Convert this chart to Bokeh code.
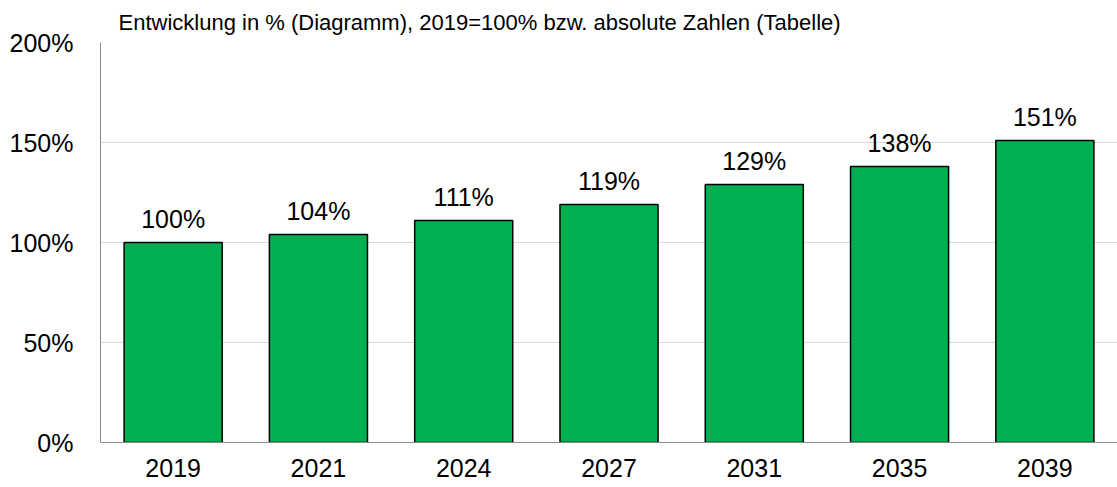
from bokeh.plotting import figure
from bokeh.models import ColumnDataSource, FixedTicker, Range1d, Title
from bokeh.core.properties import value
from bokeh.embed import file_html
from bokeh.resources import INLINE

years = ["2019", "2021", "2024", "2027", "2031", "2035", "2039"]
values = [100, 104, 111, 119, 129, 138, 151]
labels = [f"{v}%" for v in values]
title_text = "Entwicklung in % (Diagramm), 2019=100% bzw. absolute Zahlen (Tabelle)"

FONT = "Liberation Sans"
xs = [i + 0.5 for i in range(len(years))]
src = ColumnDataSource(dict(x=xs, top=values, lab=labels))

p = figure(output_backend="svg", toolbar_location=None,
           frame_width=1017, frame_height=400,
           min_border_left=100, min_border_right=0, min_border_top=42, min_border_bottom=45,
           x_range=Range1d(0, len(years)), y_range=Range1d(0, 200),
           background_fill_color="white", border_fill_color="white")
p.outline_line_color = None

p.vbar(x="x", top="top", bottom=0, width=0.675, source=src,
       fill_color="#00B050", line_color="black", line_width=1.5)
p.text(x="x", y="top", text="lab", source=src, text_align="center",
       text_baseline="bottom", y_offset=-10, text_font=value(FONT),
       text_font_size="25px", text_color="black")

p.xaxis.ticker = FixedTicker(ticks=xs)
p.xaxis.major_label_overrides = {x: y for x, y in zip(xs, years)}
p.yaxis.ticker = FixedTicker(ticks=[0, 50, 100, 150, 200])
p.yaxis.major_label_overrides = {0: "0%", 50: "50%", 100: "100%", 150: "150%", 200: "200%"}

for ax in (p.xaxis, p.yaxis):
    ax.axis_line_color = "#8c8c8c"
    ax.axis_line_width = 1
    ax.major_tick_line_color = None
    ax.minor_tick_line_color = None
    ax.major_label_text_font = FONT
    ax.major_label_text_font_size = "25px"
    ax.major_label_text_color = "black"
p.yaxis.major_label_standoff = 21
p.xaxis.major_label_standoff = 10

p.xgrid.grid_line_color = None
p.ygrid.grid_line_color = "#d9d9d9"
p.ygrid.grid_line_width = 1

t = Title(text=title_text, text_font=FONT, text_font_size="22px",
          text_font_style="normal", text_color="black", align="left",
          offset=18, standoff=15)
p.add_layout(t, "above")

open("out.html", "w").write(file_html(p, INLINE))
